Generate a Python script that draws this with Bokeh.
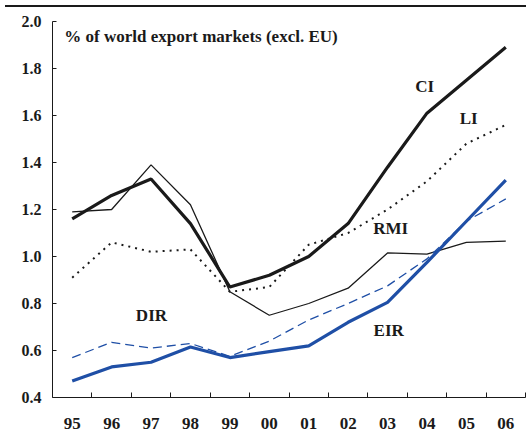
from bokeh.plotting import figure
from bokeh.models import Range1d, FixedTicker, Label, ColumnDataSource, Div
from bokeh.layouts import column
from bokeh.embed import file_html
from bokeh.resources import INLINE

years = ["95", "96", "97", "98", "99", "00", "01", "02", "03", "04", "05", "06"]
ci = [1.16, 1.26, 1.33, 1.14, 0.87, 0.92, 1.00, 1.14, 1.38, 1.61, 1.75, 1.89]
rmi = [1.19, 1.20, 1.39, 1.22, 0.85, 0.75, 0.80, 0.865, 1.015, 1.01, 1.06, 1.065]
li = [0.91, 1.06, 1.02, 1.03, 0.85, 0.87, 1.05, 1.10, 1.20, 1.32, 1.48, 1.56]
dir_ = [0.57, 0.635, 0.61, 0.63, 0.575, 0.64, 0.73, 0.80, 0.875, 0.99, 1.15, 1.245]
eir = [0.47, 0.53, 0.55, 0.615, 0.57, 0.595, 0.62, 0.72, 0.805, 0.975, 1.15, 1.325]
yticks = [0.4, 0.6, 0.8, 1.0, 1.2, 1.4, 1.6, 1.8, 2.0]
title_text = "% of world export markets (excl. EU)"

FONT = "Liberation Serif"
INK = "#1a1a1a"
BLUE = "#1f4fa6"

xc = [i + 0.5 for i in range(len(years))]
src = ColumnDataSource(dict(x=xc, ci=ci, rmi=rmi, li=li, dir=dir_, eir=eir))

p = figure(width=526, height=433, output_backend="svg", toolbar_location=None,
           x_range=Range1d(0, len(years)), y_range=Range1d(0.4, 2.0),
           min_border_left=52, min_border_right=1, min_border_top=21, min_border_bottom=36)
p.outline_line_color = None
p.grid.visible = False
p.background_fill_color = "white"

xa = p.xaxis[0]
xa.ticker = FixedTicker(ticks=xc, minor_ticks=list(range(1, len(years) + 1)))
xa.major_label_overrides = {x: y for x, y in zip(xc, years)}
xa.major_tick_line_color = None
xa.minor_tick_in = 5
xa.minor_tick_out = 0
xa.minor_tick_line_color = INK
xa.axis_line_color = INK
xa.major_label_text_font = FONT
xa.major_label_text_font_style = "bold"
xa.major_label_text_font_size = "17px"
xa.major_label_text_color = INK
xa.major_label_standoff = 14

ya = p.yaxis[0]
ya.ticker = FixedTicker(ticks=yticks, minor_ticks=[])
ya.major_label_overrides = {t: f"{t:.1f}" for t in yticks}
ya.major_tick_in = 4
ya.major_tick_out = 0
ya.major_tick_line_color = INK
ya.axis_line_color = INK
ya.major_label_text_font = FONT
ya.major_label_text_font_style = "bold"
ya.major_label_text_font_size = "16px"
ya.major_label_text_color = INK
ya.major_label_standoff = 11

p.line("x", "rmi", source=src, line_color=INK, line_width=1.3)
p.line("x", "li", source=src, line_color=INK, line_width=2, line_dash="2 5")
p.line("x", "dir", source=src, line_color=BLUE, line_width=1.3, line_dash="9 5")
p.line("x", "eir", source=src, line_color=BLUE, line_width=3.2)
p.line("x", "ci", source=src, line_color=INK, line_width=3.2)

def lab(x, y, t, size="17px", align="center"):
    p.add_layout(Label(x=x, y=y, text=t, text_font=FONT, text_font_style="bold",
                       text_font_size=size, text_color=INK, text_align=align,
                       text_baseline="middle"))

lab(0.3, 1.936, title_text, size="17px", align="left")
lab(9.44, 1.723, "CI")
lab(10.56, 1.587, "LI")
lab(8.58, 1.119, "RMI")
lab(8.53, 0.685, "EIR")
lab(2.51, 0.749, "DIR")

topline = Div(text="", width=0, height=0,
              styles={"position": "fixed", "top": "0px", "left": "0px",
                      "width": "526px", "height": "2px", "background-color": INK})

layout = column(p, topline)
open("out.html", "w").write(file_html(layout, INLINE))
